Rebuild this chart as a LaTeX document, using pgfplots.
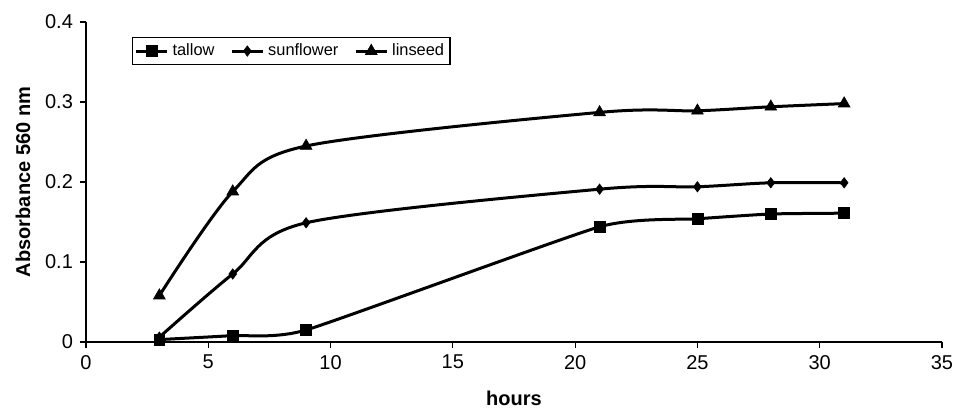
\documentclass[border=0pt]{standalone}
\usepackage{fontspec}
\setmainfont{Liberation Sans}
\usepackage{pgfplots}
\pgfplotsset{compat=1.18}

\begin{document}
\begin{tikzpicture}
\begin{axis}[
    scale only axis,
    width=428pt, height=160pt,
    xmin=0, xmax=35, ymin=0, ymax=0.4,
    xtick={0,5,...,35},
    ytick={0,0.1,0.2,0.3,0.4},
    axis lines*=left,
    tick align=outside,
    tick pos=left,
    major tick length=3pt,
    every tick/.style={black, line width=0.6pt},
    axis line style={line width=0.6pt},
    /pgf/number format/assume math mode=true,
    yticklabel style={/pgf/number format/fixed, /pgf/number format/precision=1},
    ticklabel style={font=\fontsize{10}{12}\selectfont},
    xlabel={\textbf{hours}},
    ylabel={\textbf{Absorbance 560 nm}},
    label style={font=\fontsize{10}{12}\selectfont},
    xlabel style={at={(axis description cs:0.5,-0.175)}, anchor=center},
    ylabel style={at={(axis description cs:-0.0736,0.5)}, anchor=center},
    legend columns=3,
    legend style={at={(axis description cs:0.054,0.953)}, anchor=north west,
        draw=black, line width=0.6pt, font=\fontsize{8.2}{9}\selectfont,
        inner sep=1pt,
        /tikz/every even column/.append style={column sep=6pt}},
    legend image code/.code={
        \draw[mark repeat=2, mark phase=2] plot coordinates {(0cm,0cm) (0.27cm,0cm) (0.54cm,0cm)};},
    every axis plot/.append style={black, line width=1.5pt, smooth, tension=0.5,
        mark options={solid, line width=0.3pt}},
    clip=false,
]
\addplot[mark=square*, mark size=2.7pt, tension=0.3] coordinates {
    (3,0.003) (6,0.008) (9,0.015) (21,0.144) (25,0.154) (28,0.160) (31,0.161)};
\addlegendentry{tallow}
\addplot[mark=diamond*, mark size=2.6pt] coordinates {
    (3,0.006) (6,0.085) (9,0.149) (21,0.191) (25,0.194) (28,0.199) (31,0.199)};
\addlegendentry{sunflower}
\addplot[mark=triangle*, mark size=3.4pt] coordinates {
    (3,0.058) (6,0.188) (9,0.245) (21,0.287) (25,0.289) (28,0.294) (31,0.298)};
\addlegendentry{linseed}
\end{axis}
\pgfresetboundingbox
\path ([shift={(-43pt,-33.5pt)}]current axis.south west)
    rectangle ([shift={(9pt,11pt)}]current axis.north east);
\end{tikzpicture}
\end{document}
